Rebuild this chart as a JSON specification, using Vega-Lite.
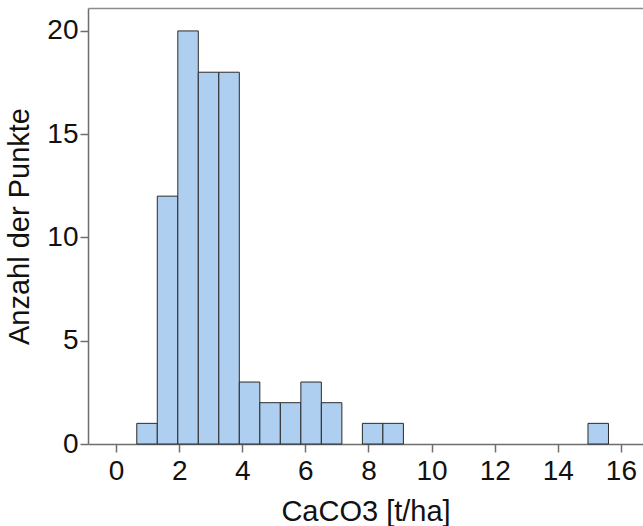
{
  "$schema": "https://vega.github.io/schema/vega-lite/v6.json",
  "autosize": "none",
  "padding": {"left": 88, "top": 8, "right": 0, "bottom": 82},
  "width": 555,
  "height": 436,
  "background": "white",
  "config": {
    "view": {"stroke": null},
    "font": "Liberation Sans",
    "axis": {
      "labelFont": "Liberation Sans",
      "titleFont": "Liberation Sans",
      "labelFontSize": 28,
      "titleFontSize": 29,
      "titleFontWeight": "normal",
      "labelColor": "#111",
      "titleColor": "#111",
      "domainColor": "#6e6e6e",
      "tickColor": "#6e6e6e",
      "domainWidth": 1.5,
      "tickWidth": 1.5,
      "tickSize": 8,
      "grid": false
    }
  },
  "data": {
    "values": [
      {"start": 0.656, "end": 1.306, "count": 1},
      {"start": 1.306, "end": 1.956, "count": 12},
      {"start": 1.956, "end": 2.606, "count": 20},
      {"start": 2.606, "end": 3.256, "count": 18},
      {"start": 3.256, "end": 3.906, "count": 18},
      {"start": 3.906, "end": 4.556, "count": 3},
      {"start": 4.556, "end": 5.206, "count": 2},
      {"start": 5.206, "end": 5.856, "count": 2},
      {"start": 5.856, "end": 6.506, "count": 3},
      {"start": 6.506, "end": 7.156, "count": 2},
      {"start": 7.806, "end": 8.456, "count": 1},
      {"start": 8.456, "end": 9.106, "count": 1},
      {"start": 14.956, "end": 15.606, "count": 1}
    ]
  },
  "layer": [
    {
      "mark": {"type": "rect", "fill": "#aecff0", "stroke": "#2a2a2a", "strokeWidth": 1},
      "encoding": {
        "x": {
          "field": "start", "type": "quantitative",
          "scale": {"domain": [-0.89, 16.7], "nice": false, "zero": false},
          "axis": {"values": [0, 2, 4, 6, 8, 10, 12, 14, 16], "title": "CaCO3 [t/ha]", "labelPadding": 5, "titlePadding": 12, "labelFlush": false}
        },
        "x2": {"field": "end"},
        "y": {
          "field": "count", "type": "quantitative",
          "scale": {"domain": [0, 21.11], "nice": false},
          "axis": {"values": [0, 5, 10, 15, 20], "title": "Anzahl der Punkte", "labelPadding": 2, "titlePadding": 12, "labelFlush": false}
        },
        "y2": {"datum": 0}
      }
    },
    {
      "mark": {"type": "rect", "opacity": 0},
      "encoding": {
        "x": {
          "field": "start", "type": "quantitative",
          "axis": {"orient": "top", "labels": false, "ticks": false, "title": null, "domainColor": "#8c8c8c"}
        },
        "x2": {"field": "end"},
        "y": {"field": "count", "type": "quantitative"},
        "y2": {"datum": 0}
      }
    }
  ],
  "resolve": {"axis": {"x": "independent"}}
}
